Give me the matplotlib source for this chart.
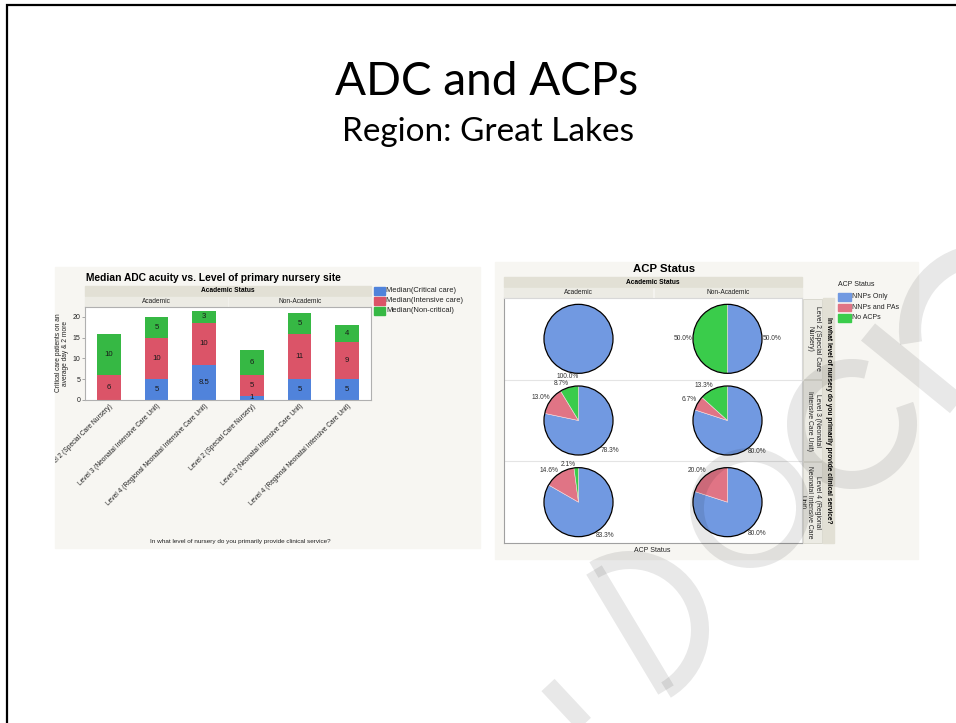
import matplotlib
matplotlib.use('Agg')
import matplotlib.pyplot as plt
import numpy as np
from matplotlib.patches import Rectangle, Circle, Arc
from matplotlib.lines import Line2D

plt.rcParams['font.family'] = ['Liberation Sans', 'DejaVu Sans']

W, H = 956, 723

# bar chart: median ADC by nursery level, academic first then non-academic
levels = ['Level 2 (Special Care Nursery)',
          'Level 3 (Neonatal Intensive Care Unit)',
          'Level 4 (Regional Neonatal Intensive Care Unit)']
groups = ['Academic', 'Non-Academic']
critical = [0, 5, 8.5, 1, 5, 5]
intensive = [6, 10, 10, 5, 11, 9]
noncritical = [10, 5, 3, 6, 5, 4]
bar_series = ['Median(Critical care)', 'Median(Intensive care)', 'Median(Non-critical)']

# pie chart: ACP status share (%), rows = level, cols = academic / non-academic
acp_names = ['NNPs Only', 'NNPs and PAs', 'No ACPs']
nnp_only = [[100.0, 50.0], [78.3, 80.0], [83.3, 80.0]]
nnp_pa = [[0.0, 0.0], [13.0, 6.7], [14.6, 20.0]]
no_acp = [[0.0, 50.0], [8.7, 13.3], [2.1, 0.0]]
strip_labels = ['Level 2 (Special Care\nNursery)',
                'Level 3 (Neonatal\nIntensive Care Unit)',
                'Level 4 (Regional\nNeonatal Intensive Care\nUnit)']

bar_cols = ['#5083db', '#db5468', '#36b844']
pie_cols = ['#7199e1', '#e07485', '#3acc4b']
panel = '#f7f6f2'
band1 = '#e2e0d5'
band2 = '#ecebe4'
txt = '#222222'


def box(x0, y0, x1, y1):
    return [x0 / W, 1 - y1 / H, (x1 - x0) / W, (y1 - y0) / H]


fig = plt.figure(figsize=(W / 100, H / 100), dpi=100)
bg = fig.add_axes([0, 0, 1, 1], zorder=0)
bg.set_xlim(0, W)
bg.set_ylim(H, 0)
bg.axis('off')

# slide heading
bg.text(487, 95, 'ADC and ACPs', fontsize=33, family='Lato', ha='center', va='baseline')
bg.text(488, 141, 'Region: Great Lakes', fontsize=24, family='Lato', ha='center', va='baseline')

# ---------------- left: stacked bars ----------------
left_panel = Rectangle((55, 267), 425, 281, color=panel, zorder=0)
bg.add_patch(left_panel)
bg.text(213, 278, 'Median ADC acuity vs. Level of primary nursery site',
        fontsize=7.4, fontweight='bold', ha='center', va='center', color='black')
bg.add_patch(Rectangle((85, 286), 286, 10, color=band1))
bg.text(228, 291, 'Academic Status', fontsize=4.8, fontweight='bold', ha='center', va='center')
bg.add_patch(Rectangle((85, 297), 142, 9.5, color=band2))
bg.add_patch(Rectangle((229, 297), 142, 9.5, color=band2))
bg.text(156, 301.5, groups[0], fontsize=4.8, ha='center', va='center', color=txt)
bg.text(300, 301.5, groups[1], fontsize=4.8, ha='center', va='center', color=txt)

ax1 = fig.add_axes(box(85, 307, 371, 400), zorder=1)
x = np.arange(len(critical))
crit = np.array(critical, float)
inten = np.array(intensive, float)
nonc = np.array(noncritical, float)
ax1.bar(x, crit, 0.5, color=bar_cols[0])
ax1.bar(x, inten, 0.5, bottom=crit, color=bar_cols[1])
ax1.bar(x, nonc, 0.5, bottom=crit + inten, color=bar_cols[2])
for vals, base in [(crit, 0), (inten, crit), (nonc, crit + inten)]:
    base = np.zeros(len(x)) + base
    for i in range(len(x)):
        if vals[i] > 0:
            ax1.text(x[i], base[i] + vals[i] / 2, f'{vals[i]:g}', ha='center', va='center',
                     fontsize=5.6, color='#1a1a1a')
ax1.set_xlim(-0.5, 5.5)
ax1.set_ylim(0, 22.4)
ax1.set_yticks([0, 5, 10, 15, 20])
ax1.set_xticks(x)
ax1.set_xticklabels(levels * 2, rotation=45, ha='right', rotation_mode='anchor',
                    fontsize=4.8, color=txt)
for lab in ax1.get_xticklabels():
    lab.set_clip_path(left_panel)
ax1.tick_params(axis='x', length=0, pad=2)
ax1.tick_params(axis='y', length=2, width=0.5, color='#888888', labelsize=5, labelcolor=txt, pad=1.5)
for s in ax1.spines.values():
    s.set_color('#b0b0b0')
    s.set_linewidth(0.8)
bg.text(62, 353, 'Critical care patients on an\naverage day & 2 more', rotation=90,
        fontsize=4.8, ha='center', va='center', color=txt, linespacing=1.0)
bg.text(240, 542, 'In what level of nursery do you primarily provide clinical service?',
        fontsize=4.6, ha='center', va='center', color=txt)
for k, name in enumerate(bar_series):
    y0 = 287 + k * 10
    bg.add_patch(Rectangle((374, y0), 11, 7.5, color=bar_cols[k]))
    bg.text(386, y0 + 3.8, name, fontsize=5.4, ha='left', va='center', color=txt)

# ---------------- right: pies ----------------
bg.add_patch(Rectangle((495, 262), 423, 297, color=panel))
bg.text(664, 269, 'ACP Status', fontsize=8.2, fontweight='bold', ha='center', va='center')
bg.add_patch(Rectangle((504, 277), 298, 10, color=band1))
bg.text(653, 282, 'Academic Status', fontsize=4.8, fontweight='bold', ha='center', va='center')
bg.add_patch(Rectangle((504, 288), 148, 9, color=band2))
bg.add_patch(Rectangle((655, 288), 147, 9, color=band2))
bg.text(578, 292.5, groups[0], fontsize=4.8, ha='center', va='center', color=txt)
bg.text(728, 292.5, groups[1], fontsize=4.8, ha='center', va='center', color=txt)

ax2 = fig.add_axes(box(504, 298, 802, 543), zorder=1)
ax2.set_xticks([])
ax2.set_yticks([])
ax2.set_xlim(0, 2)
ax2.set_ylim(3, 0)
for s in ['top', 'right']:
    ax2.spines[s].set_color('#d8d8d8')
for s in ['left', 'bottom']:
    ax2.spines[s].set_color('#a0a0a0')
for r in [1, 2]:
    ax2.axhline(r, color='#e4e4e4', lw=0.8)

rad = 34.5
for r in range(3):
    for c in range(2):
        cx = 504 + 298 * (c + 0.5) / 2
        cy = 298 + 245 * (r + 0.5) / 3
        pa = fig.add_axes(box(cx - 45, cy - 45, cx + 45, cy + 45), zorder=2)
        vals = [nnp_only[r][c], nnp_pa[r][c], no_acp[r][c]]
        keep = [i for i in range(3) if vals[i] > 0]
        wedges, _ = pa.pie([vals[i] for i in keep], colors=[pie_cols[i] for i in keep],
                           startangle=90, counterclock=False, radius=1,
                           wedgeprops=dict(edgecolor='#f4dce0', linewidth=0.4))
        pa.add_patch(Circle((0, 0), 1, fill=False, ec='black', lw=0.9))
        for w, i in zip(wedges, keep):
            ang = np.deg2rad((w.theta1 + w.theta2) / 2)
            px, py = 1.02 * np.cos(ang), 1.0 * np.sin(ang)
            ha = 'left' if np.cos(ang) > 0.01 else 'right'
            va = 'bottom' if np.sin(ang) > 0.01 else ('top' if np.sin(ang) < -0.01 else 'center')
            pa.text(px, py, f'{vals[i]:.1f}%', fontsize=4.8, ha=ha, va=va, color='#333333')
        lim = 45 / rad
        pa.set_xlim(-lim, lim)
        pa.set_ylim(-lim, lim)
        pa.set_aspect('equal')
        pa.axis('off')

# row strips
for r in range(3):
    y0 = 298 + 245 * r / 3
    cell = Rectangle((803, y0 + 0.5), 19, 245 / 3 - 1, fc=band2, ec='#d0cfc6', lw=0.5)
    bg.add_patch(cell)
    t = bg.text(821, y0 + 245 / 6, strip_labels[r], rotation=-90, fontsize=4.9, ha='center',
                va='top', color=txt, linespacing=1.1, rotation_mode='anchor')
    t.set_clip_path(cell)
bg.add_patch(Rectangle((823, 298), 11, 245, color=band1))
bg.text(828.5, 420, 'In what level of nursery do you primarily provide clinical service?',
        rotation=-90, fontsize=4.8, fontweight='bold', ha='center', va='center')
bg.text(652, 551, 'ACP Status', fontsize=5, ha='center', va='center', color=txt)

bg.text(838, 284, 'ACP Status', fontsize=5, ha='left', va='center', color=txt)
for k, name in enumerate(acp_names):
    y0 = 293 + k * 10.5
    bg.add_patch(Rectangle((838, y0), 13, 7.5, color=pie_cols[k]))
    bg.text(852, y0 + 3.8, name, fontsize=5, ha='left', va='center', color=txt)

# ---------------- overlay: watermark strokes and slide frame ----------------
top = fig.add_axes([0, 0, 1, 1], zorder=10)
top.set_xlim(0, W)
top.set_ylim(H, 0)
top.axis('off')
a = 0.09
wm = dict(color='black', alpha=a, capstyle='butt')
top.add_patch(Arc((750, 508), 106, 106, theta1=0, theta2=360, lw=10, **wm))
top.add_patch(Arc((852, 424), 112, 112, theta1=-20, theta2=285, lw=13, **wm))
top.add_patch(Arc((985, 330), 150, 150, theta1=170, theta2=262, lw=16, **wm))
top.add_line(Line2D([868, 960], [332, 407], lw=16, solid_capstyle='butt', color='black', alpha=a))
top.add_patch(Arc((630, 630), 140, 140, theta1=-121, theta2=59, lw=13, **wm))
top.add_line(Line2D([594, 666], [570, 690], lw=13, solid_capstyle='butt', color='black', alpha=a))
top.add_line(Line2D([548, 590], [685, 730], lw=13, solid_capstyle='butt', color='black', alpha=a))

top.add_line(Line2D([7, 7, W], [H, 5, 5], lw=1.6, color='black', solid_joinstyle='miter'))

fig.savefig('out.png', dpi=100, facecolor='white')
